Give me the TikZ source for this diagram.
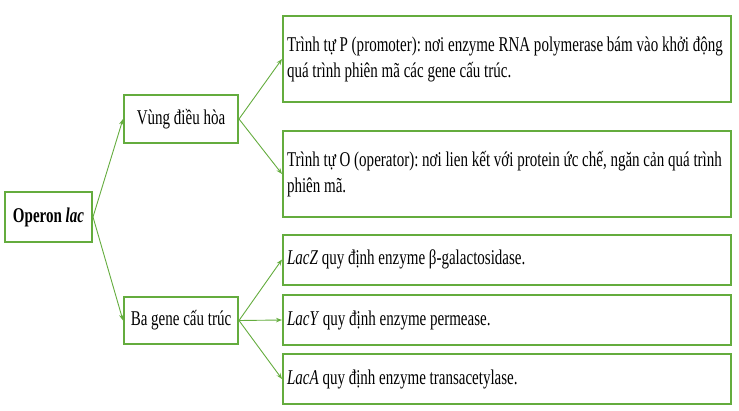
\documentclass[tikz,border=0pt]{standalone}
\usepackage{fontspec}
\setmainfont{Liberation Serif}[FakeStretch=0.715]
\usetikzlibrary{arrows.meta}
\definecolor{gr}{RGB}{100,172,62}
\frenchspacing
\begin{document}
\begin{tikzpicture}[x=1pt,y=-1pt,
  box/.style={draw=gr,line width=2pt,fill=white,font=\fontsize{21}{26}\selectfont,inner xsep=5pt,inner ysep=0pt},
  smallbox/.style={box,align=center},
  bigbox/.style={box,minimum width=448pt,text width=440pt,align=flush left,inner xsep=4pt},
  conn/.style={draw=gr,line width=0.9pt,-{Stealth[length=6pt,width=4.5pt]}}]
\useasboundingbox (0,0) rectangle (739,410);
\node[smallbox,minimum width=87pt,minimum height=50pt] (op) at (48.5,217) {\textbf{Operon \textit{lac}}};
\node[smallbox,minimum width=114pt,minimum height=48pt] (vd) at (181,119) {Vùng điều hòa};
\node[smallbox,minimum width=114pt,minimum height=47pt] (bg) at (181,320.5) {Ba gene cấu trúc};
\node[bigbox,minimum height=86pt] (p) at (507,59) {Trình tự P (promoter): nơi enzyme RNA polymerase bám vào khởi động\\quá trình phiên mã các gene cấu trúc.};
\node[bigbox,minimum height=86pt] (o) at (507,174) {Trình tự O (operator): nơi lien kết với protein ức chế, ngăn cản quá trình\\phiên mã.};
\node[bigbox,minimum height=50pt] (z) at (507,259.5) {\textit{LacZ} quy định enzyme β-galactosidase.};
\node[bigbox,minimum height=50pt] (y) at (507,320) {\textit{LacY} quy định enzyme permease.};
\node[bigbox,minimum height=50pt] (a) at (507,379) {\textit{LacA} quy định enzyme transacetylase.};
\draw[conn] (op.east) -- (vd.west);
\draw[conn] (op.east) -- (bg.west);
\draw[conn] (vd.east) -- (p.west);
\draw[conn] (vd.east) -- (o.west);
\draw[conn] (bg.east) -- (z.west);
\draw[conn] (bg.east) -- (y.west);
\draw[conn] (bg.east) -- (a.west);
\end{tikzpicture}
\end{document}
